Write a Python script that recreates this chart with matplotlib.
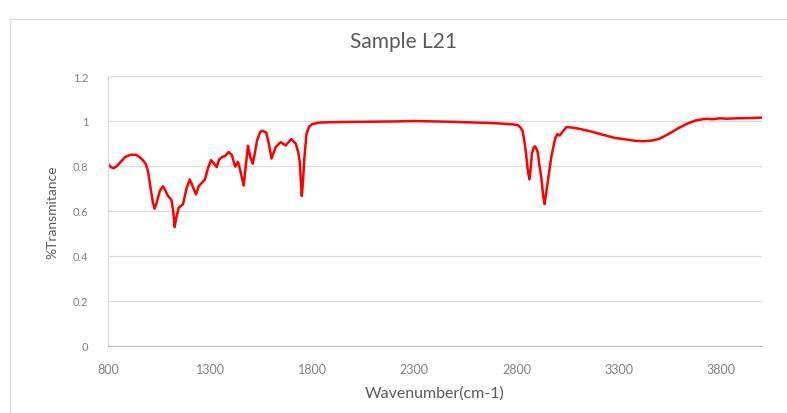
import matplotlib.pyplot as plt
from matplotlib.patches import Rectangle

# FTIR spectrum, values
wavenumber = [
    800, 815, 828, 845, 865, 885, 913, 938, 955, 971, 985, 996,
    1010, 1020, 1029, 1040, 1055, 1070, 1082, 1094, 1111, 1120, 1127, 1135,
    1147, 1168, 1185, 1201, 1215, 1231, 1245, 1260, 1275, 1290, 1305, 1320,
    1333, 1345, 1360, 1375, 1391, 1407, 1423, 1437, 1448, 1458, 1465, 1475,
    1486, 1497, 1509, 1520, 1530, 1545, 1555, 1575, 1588, 1601, 1612, 1621,
    1646, 1670, 1698, 1720, 1732, 1739, 1749, 1755, 1761, 1772, 1785, 1800,
    1835, 1900, 2000, 2100, 2200, 2300, 2400, 2500, 2600, 2700, 2780, 2806,
    2820, 2830, 2840, 2847, 2855, 2863, 2870, 2875, 2885, 2891, 2898, 2904,
    2912, 2921, 2930, 2937, 2945, 2954, 2962, 2970, 2980, 2990, 3000, 3011,
    3023, 3044, 3080, 3118, 3170, 3217, 3280, 3332, 3380, 3422, 3460, 3496,
    3540, 3595, 3640, 3678, 3727, 3760, 3793, 3830, 3875, 3940, 4000,
]
transmitance = [
    0.81, 0.795, 0.79, 0.80, 0.82, 0.84, 0.85, 0.85, 0.84, 0.826, 0.81, 0.78,
    0.70, 0.64, 0.61, 0.64, 0.69, 0.71, 0.69, 0.667, 0.65, 0.60, 0.528, 0.57,
    0.615, 0.63, 0.70, 0.74, 0.71, 0.674, 0.71, 0.725, 0.74, 0.79, 0.826, 0.81,
    0.795, 0.83, 0.84, 0.845, 0.862, 0.848, 0.797, 0.819, 0.78, 0.74, 0.713, 0.80,
    0.89, 0.84, 0.81, 0.86, 0.913, 0.95, 0.957, 0.949, 0.898, 0.833, 0.86, 0.884,
    0.906, 0.891, 0.92, 0.898, 0.86, 0.82, 0.667, 0.73, 0.826, 0.942, 0.975, 0.986,
    0.993, 0.995, 0.996, 0.997, 0.998, 1.0, 0.998, 0.996, 0.993, 0.99, 0.985, 0.982,
    0.97, 0.955, 0.90, 0.85, 0.78, 0.74, 0.80, 0.855, 0.885, 0.887, 0.875, 0.86,
    0.80, 0.75, 0.67, 0.63, 0.68, 0.74, 0.79, 0.84, 0.885, 0.925, 0.942, 0.935,
    0.95, 0.973, 0.97, 0.963, 0.952, 0.94, 0.925, 0.918, 0.912, 0.91, 0.913, 0.92,
    0.94, 0.97, 0.99, 1.003, 1.01, 1.008, 1.012, 1.01, 1.012, 1.013, 1.015,
]
x_ticks = [800, 1300, 1800, 2300, 2800, 3300, 3800]
y_ticks = [0, 0.2, 0.4, 0.6, 0.8, 1, 1.2]
y_tick_labels = ["0", "0.2", "0.4", "0.6", "0.8", "1", "1.2"]

plt.rcParams["font.family"] = ["Lato", "DejaVu Sans"]
grey = "#595959"
light_grey = "#7f7f7f"

fig = plt.figure(figsize=(7.87, 4.14), dpi=100)
ax = fig.add_axes([0.137, 0.162, 0.831, 0.652])

# cadre du graphique (style Excel)
fig.patches.append(Rectangle((10 / 787, -0.1), 1.2, 1 - 20 / 414 + 0.1,
                             transform=fig.transFigure, fill=False,
                             edgecolor="#d9d9d9", linewidth=1))

ax.plot(wavenumber, transmitance, color="#ff0000", linewidth=1.8)

ax.set_xlim(800, 4000)
ax.set_ylim(0, 1.2)
ax.set_xticks(x_ticks)
ax.set_yticks(y_ticks)
ax.set_yticklabels(y_tick_labels)
ax.tick_params(length=0, labelcolor=light_grey)
ax.tick_params(axis="x", labelsize=9, pad=12)
ax.tick_params(axis="y", labelsize=8, pad=14)
ax.grid(axis="y", color="#d9d9d9", linewidth=0.9)
ax.set_axisbelow(True)

for side in ["top", "right"]:
    ax.spines[side].set_visible(False)
ax.spines["left"].set_color("#d9d9d9")
ax.spines["bottom"].set_color("#bfbfbf")

# titre centré sur toute la zone du graphique, comme dans Excel
fig.text(403 / 787, 1 - 42 / 414, "Sample L21", fontsize=15, color=grey,
         ha="center", va="center")
ax.set_xlabel("Wavenumber(cm-1)", fontsize=11.5, color=grey, labelpad=8)
ax.set_ylabel("%Transmitance", fontsize=10, color=grey, labelpad=10)

plt.savefig("out.png", dpi=100)
plt.close()
